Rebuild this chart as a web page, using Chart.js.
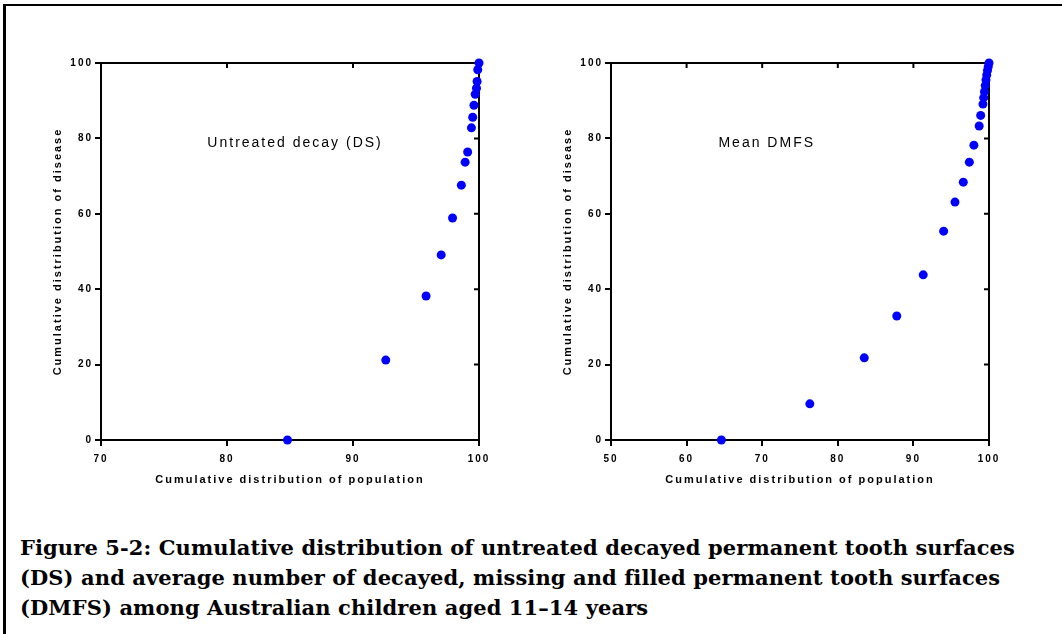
<!DOCTYPE html>
<html>
<head>
<meta charset="utf-8">
<script src="https://cdn.jsdelivr.net/npm/chart.js@4/dist/chart.umd.min.js"></script>
<style>
  body { margin: 0; background: #fff; width: 1062px; height: 634px; overflow: hidden; position: relative; }
  .frame { position: absolute; left: 3px; top: 4px; width: 1100px; height: 700px; border-left: 3px solid #000; border-top: 2px solid #000; }
  canvas { position: absolute; top: 0; }
  #dsChart { left: 0; }
  #dmfsChart { left: 510px; }
  .caption { position: absolute; left: 20px; top: 533px; font: bold 21px "DejaVu Serif", serif; line-height: 30px; color: #000; white-space: nowrap; letter-spacing: 0.1px; }
</style>
</head>
<body>
<div class="frame"></div>
<canvas id="dsChart" width="520" height="500"></canvas>
<canvas id="dmfsChart" width="520" height="500"></canvas>
<div class="caption">Figure 5-2: Cumulative distribution of untreated decayed permanent tooth surfaces<br>(DS) and average number of decayed, missing and filled permanent tooth surfaces<br>(DMFS) among Australian children aged 11–14 years</div>

<script>
// untreated decay (DS)
const dsPopulation = [84.8, 92.6, 95.8, 97.0, 97.9, 98.6, 98.9, 99.1, 99.4, 99.5, 99.6, 99.7, 99.8, 99.85, 99.9, 100];
const dsDisease    = [0, 21.2, 38.2, 49.1, 58.9, 67.6, 73.7, 76.4, 82.8, 85.6, 88.8, 91.7, 93.3, 95.1, 98.2, 100];

// mean DMFS
const dmfsPopulation = [64.6, 76.3, 83.5, 87.8, 91.3, 94.0, 95.5, 96.6, 97.4, 98.0, 98.7, 98.9, 99.2, 99.3, 99.4, 99.5, 99.6, 99.7, 99.8, 99.9, 100];
const dmfsDisease    = [0, 9.6, 21.8, 32.9, 43.8, 55.4, 63.1, 68.4, 73.7, 78.2, 83.3, 86.1, 89.1, 90.8, 92.4, 94.0, 95.5, 96.8, 98.0, 99.0, 100];

const xTitle = 'Cumulative distribution of population';
const yTitle = 'Cumulative distribution of disease';
const dsLabel = 'Untreated decay (DS)';
const dmfsLabel = 'Mean DMFS';

// spaced-out lettering like the original graph software
const spacingPlugin = {
  id: 'spacing',
  beforeDraw(chart) { chart.ctx.letterSpacing = '2px'; }
};

// box round the plot with small inner ticks on top and right
const framePlugin = {
  id: 'frame',
  beforeDatasetsDraw(chart) {
    const { ctx, chartArea: a, scales: { x, y } } = chart;
    ctx.save();
    ctx.strokeStyle = '#000';
    ctx.lineWidth = 2;
    ctx.beginPath();
    ctx.moveTo(a.left, a.top);
    ctx.lineTo(a.right, a.top);
    ctx.lineTo(a.right, a.bottom);
    x.ticks.forEach(t => {
      const px = x.getPixelForValue(t.value);
      if (px > a.left + 1 && px < a.right - 1) { ctx.moveTo(px, a.top); ctx.lineTo(px, a.top + 5); }
    });
    y.ticks.forEach(t => {
      const py = y.getPixelForValue(t.value);
      if (py > a.top + 1 && py < a.bottom - 1) { ctx.moveTo(a.right, py); ctx.lineTo(a.right - 5, py); }
    });
    ctx.stroke();
    ctx.restore();
  }
};

const labelPlugin = {
  id: 'panelLabel',
  afterDraw(chart, args, opts) {
    const { ctx, scales: { x, y } } = chart;
    ctx.save();
    ctx.letterSpacing = '2px';
    ctx.font = '14px "Liberation Sans", Arial, sans-serif';
    ctx.fillStyle = '#000';
    ctx.textAlign = 'center';
    ctx.textBaseline = 'middle';
    ctx.fillText(opts.text, x.getPixelForValue(opts.x), y.getPixelForValue(opts.y));
    ctx.restore();
  }
};

function makeChart(id, xs, ys, xMin, label, labelX) {
  const points = xs.map((v, i) => ({ x: v, y: ys[i] }));
  const tickFont = { family: '"Liberation Sans", Arial, sans-serif', size: 10, weight: 'bold' };
  const titleFont = { family: '"Liberation Sans", Arial, sans-serif', size: 11, weight: 'bold' };
  return new Chart(document.getElementById(id), {
    type: 'scatter',
    data: {
      datasets: [{
        data: points,
        backgroundColor: '#0000ff',
        borderWidth: 0,
        pointRadius: 4.5,
        pointHoverRadius: 4.5,
        clip: false
      }]
    },
    options: {
      responsive: false,
      animation: false,
      layout: { padding: { left: 46, right: 41, top: 63, bottom: 0 } },
      plugins: {
        legend: { display: false },
        tooltip: { enabled: false },
        panelLabel: { text: label, x: labelX, y: 78.8 }
      },
      scales: {
        x: {
          type: 'linear',
          min: xMin,
          max: 100,
          ticks: { stepSize: 10, color: '#000', font: tickFont, padding: 7 },
          grid: { drawOnChartArea: false, color: '#000', lineWidth: 2, tickLength: 6 },
          border: { color: '#000', width: 2 },
          title: { display: true, text: xTitle, color: '#000', font: titleFont, padding: { top: 0, bottom: 13 } },
          afterFit(s) { s.height = 60; }
        },
        y: {
          type: 'linear',
          min: 0,
          max: 100,
          ticks: { stepSize: 20, color: '#000', font: tickFont, padding: 2 },
          grid: { drawOnChartArea: false, color: '#000', lineWidth: 2, tickLength: 6 },
          border: { color: '#000', width: 2 },
          title: { display: true, text: yTitle, color: '#000', font: titleFont, padding: { top: 5, bottom: 0 } },
          afterFit(s) { s.width = 55; }
        }
      }
    },
    plugins: [spacingPlugin, framePlugin, labelPlugin]
  });
}

makeChart('dsChart', dsPopulation, dsDisease, 70, dsLabel, 85.4);
makeChart('dmfsChart', dmfsPopulation, dmfsDisease, 50, dmfsLabel, 70.6);
</script>
</body>
</html>
